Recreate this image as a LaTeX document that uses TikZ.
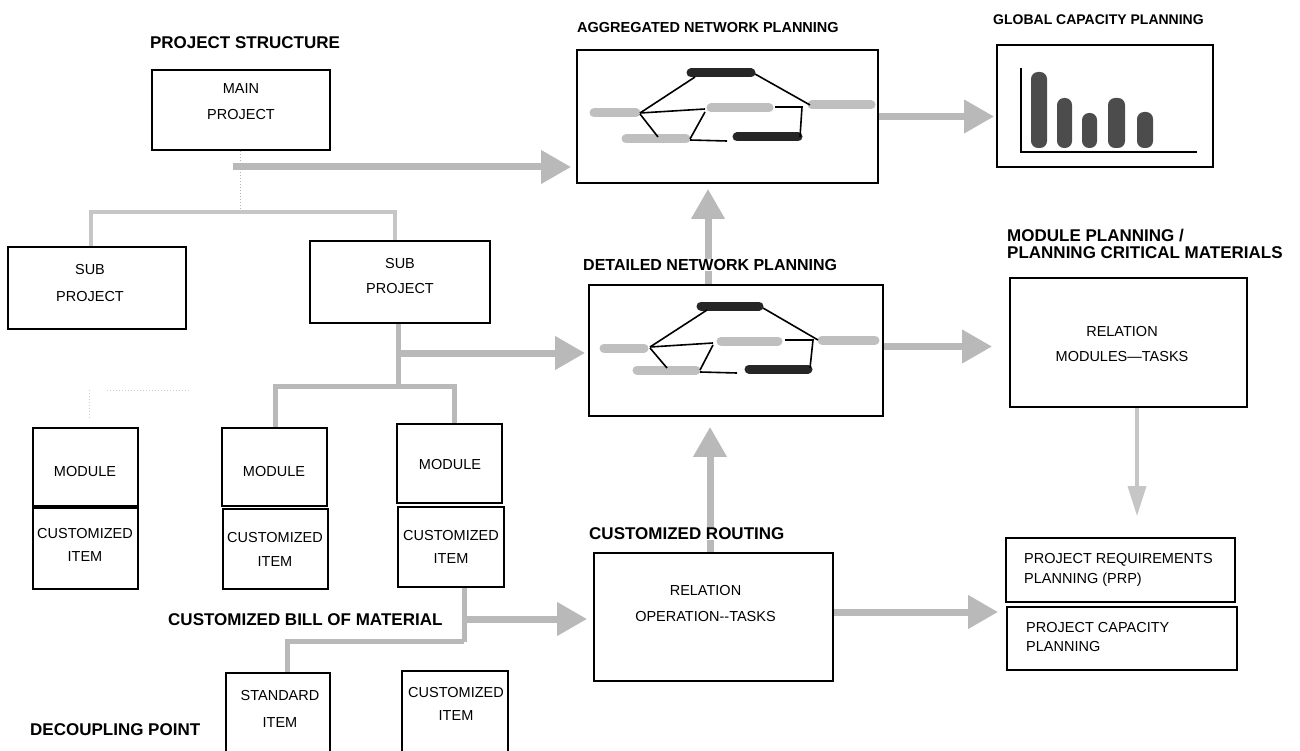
\documentclass[tikz,border=0pt]{standalone}
\usepackage{fontspec}
\setmainfont{Liberation Sans}
\usetikzlibrary{arrows.meta}
\begin{document}
\begin{tikzpicture}[x=1pt,y=-1pt,
  box/.style={draw=black, line width=1.8pt, inner sep=0pt},
  tx/.style={font=\fontsize{14.5}{#1}\selectfont, align=center, inner sep=0pt},
  txl/.style={font=\fontsize{14.5}{#1}\selectfont, align=left, anchor=west, inner sep=0pt},
  hd/.style={font=\bfseries\fontsize{#1}{17.5}\selectfont, inner sep=0pt, anchor=west, align=left},
  garrow/.style={draw=gray!55, line width=7pt, -{Triangle[length=30pt 0 1, width=32pt 0 1]}},
  larrow/.style={draw=gray!45, line width=3.5pt, -{Triangle[length=30pt 0 1, width=18pt 0 1]}},
  gline/.style={draw=gray!45, line width=4pt},
  gline2/.style={draw=gray!55, line width=5pt},
  dotline/.style={draw=gray!60, line width=1pt, dotted},
  faint/.style={draw=gray!40, line width=1pt, dotted},
  nline/.style={line width=1.6pt},
  gbar/.style={draw=gray!50, line width=9pt, line cap=round},
  kbar/.style={draw=black!85, line width=9pt, line cap=round}]
\useasboundingbox (0,0) rectangle (1300,751);

% ---------- headings ----------
\node[hd=17, anchor=center] (hPS) at (245,43) {PROJECT STRUCTURE};
\node[hd=14.5] (hAgg) at (577,28) {AGGREGATED NETWORK PLANNING};
\node[hd=14] (hGlob) at (993,20) {GLOBAL CAPACITY PLANNING};
\node[hd=17] (hMod) at (1007,244) {MODULE PLANNING /\\PLANNING CRITICAL MATERIALS};
\node[hd=17] (hBOM) at (168,620) {CUSTOMIZED BILL OF MATERIAL};
\node[hd=17] (hDec) at (30,730) {DECOUPLING POINT};

% ---------- boxes ----------
\node[box, minimum width=178pt, minimum height=80pt] (main) at (241,110) {};
\node[box, minimum width=178pt, minimum height=82pt] (sub1) at (97,288) {};
\node[box, minimum width=180pt, minimum height=82pt] (sub2) at (400,282) {};
\node[box, minimum width=105pt, minimum height=78pt] (m1) at (85.5,467) {};
\node[box, minimum width=105pt, minimum height=81pt] (ci1) at (85.5,548.5) {};
\node[box, minimum width=105pt, minimum height=78pt] (m2) at (274.5,467) {};
\node[box, minimum width=105pt, minimum height=80pt] (ci2) at (275.5,549) {};
\node[box, minimum width=105pt, minimum height=79pt] (m3) at (449.5,463.5) {};
\node[box, minimum width=106pt, minimum height=80pt] (ci3) at (451,547) {};
\node[box, minimum width=104pt, minimum height=87pt] (std) at (278,716.5) {};
\node[box, minimum width=106pt, minimum height=89pt] (ci4) at (455,715.5) {};
\node[box, minimum width=301pt, minimum height=133pt] (agg) at (727.5,116.5) {};
\node[box, minimum width=216pt, minimum height=122pt] (glob) at (1105,106) {};
\node[box, minimum width=294pt, minimum height=131pt] (det) at (736,350.5) {};
\node[box, minimum width=237pt, minimum height=129pt] (mod) at (1128.5,342.5) {};
\node[box, minimum width=239pt, minimum height=128pt] (rout) at (713.5,617) {};
\node[box, minimum width=229pt, minimum height=64pt] (prp) at (1120.5,570) {};
\node[box, minimum width=230pt, minimum height=63pt] (pcp) at (1122,638.5) {};

% ---------- box texts ----------
\node[tx=26] (tMain) at (241,102) {MAIN\\PROJECT};
\node[tx=27] (tSub1) at (90,283.5) {SUB\\PROJECT};
\node[tx=25] (tSub2) at (400,276.5) {SUB\\PROJECT};
\node[tx=20] (tM1) at (85,472) {MODULE};
\node[tx=23] (tCI1) at (85,544.5) {CUSTOMIZED\\ITEM};
\node[tx=20] (tM2) at (274,472) {MODULE};
\node[tx=24] (tCI2) at (275,549) {CUSTOMIZED\\ITEM};
\node[tx=20] (tM3) at (450,465) {MODULE};
\node[tx=23] (tCI3) at (451,546.5) {CUSTOMIZED\\ITEM};
\node[tx=27] (tStd) at (280,708.5) {STANDARD\\ITEM};
\node[tx=23] (tCI4) at (456,703.5) {CUSTOMIZED\\ITEM};
\node[tx=25] (tMod) at (1122,344.5) {RELATION\\MODULES---TASKS};
\node[tx=26] (tRout) at (705.5,604) {RELATION\\OPERATION-{}-TASKS};
\node[txl=20] (tPrp) at (1024,570) {PROJECT REQUIREMENTS\\PLANNING (PRP)};
\node[txl=19] (tPcp) at (1026,637.5) {PROJECT CAPACITY\\PLANNING};

% ---------- tree connectors ----------
\coordinate (jm) at (240,167);
\coordinate (js) at (233,167);
\coordinate (jt) at (240,212);
\coordinate (tl) at (91,212);
\coordinate (tr) at (395,212);
\draw[dotline] (jm |- main.south) -- (jt);
\draw[gline] (sub1.north -| tl) -- (tl) -- (tr) -- (tr |- sub2.north);
\draw[garrow, shorten >=5pt] (js) -- (js -| agg.west);

\coordinate (sb) at (398,353);
\coordinate (sj) at (398,386);
\coordinate (bl) at (275,386);
\coordinate (br) at (454,386);
\draw[gline2] (sub2.south -| sb) -- (sj);
\draw[gline2] (m2.north -| bl) -- (bl) -- (br) -- (br |- m3.north);
\draw[garrow, shorten >=3pt] (sb) -- (sb -| det.west);

\coordinate (fa) at (89,418);
\coordinate (fb) at (89,390);
\coordinate (fc) at (107,390);
\coordinate (fd) at (189,390);
\draw[faint] (fa) -- (fb);
\draw[faint] (fc) -- (fd);

\coordinate (cb) at (464,619);
\coordinate (cj) at (464,642);
\coordinate (sl) at (287,641);
\draw[gline2] (ci3.south -| cj) -- (cj);
\draw[gline2] (cj |- sl) -- (sl) -- (sl |- std.north);
\draw[garrow, shorten >=6pt] (cb) -- (cb -| rout.west);

% ---------- planning arrows ----------
\coordinate (va) at (708,250);
\draw[garrow, shorten >=5pt] (va |- det.north) -- (va |- agg.south);
\draw[garrow, shorten >=2pt] (agg.east) -- (agg.east -| glob.west);
\draw[garrow, shorten >=17pt] ([yshift=4pt]det.east) -- ([yshift=4pt]det.east -| mod.west);
\coordinate (vr) at (710,500);
\draw[garrow, shorten >=10pt] (vr |- rout.north) -- (vr |- det.south);
\draw[garrow, shorten >=7pt] ([yshift=5pt]rout.east) -- ([yshift=5pt]rout.east -| prp.west);
\coordinate (vm) at (1137,470);
\draw[larrow, shorten >=21pt] (vm |- mod.south) -- (vm |- prp.north);
\node[hd=17, fill=white] (hRout) at (589,534) {CUSTOMIZED ROUTING};
\node[hd=16, fill=white] (hDet) at (583,265) {DETAILED NETWORK PLANNING};

% ---------- aggregated network sketch ----------
\draw[gbar] (594,113) -- (636,113);
\draw[gbar] (711,108) -- (769,108);
\draw[gbar] (812,105) -- (871,105);
\draw[gbar] (626,139) -- (686,139);
\draw[kbar] (691,73) -- (751,73);
\draw[kbar] (737,137) -- (798,137);
\draw[nline] (695,77) -- (640,113);
\draw[nline] (755,74) -- (810,105);
\draw[nline] (640,113) -- (705,109);
\draw[nline] (640,114) -- (658,137);
\draw[nline] (690,139) -- (705,112);
\draw[nline] (690,140) -- (727,141);
\draw[nline] (775,107) -- (802,107) -- (800,137);

% ---------- detailed network sketch ----------
\draw[gbar] (604,348) -- (644,348);
\draw[gbar] (721,341) -- (778,341);
\draw[gbar] (822,340) -- (875,340);
\draw[gbar] (637,370) -- (696,370);
\draw[kbar] (701,306) -- (759,306);
\draw[kbar] (749,369) -- (808,369);
\draw[nline] (707,310) -- (650,347);
\draw[nline] (763,308) -- (818,340);
\draw[nline] (650,347) -- (713,343);
\draw[nline] (650,348) -- (667,368);
\draw[nline] (700,370) -- (713,345);
\draw[nline] (700,372) -- (737,373);
\draw[nline] (785,340) -- (813,340) -- (810,368);

% ---------- capacity chart ----------
\draw[line width=1.5pt] (1021,68) -- (1021,152) -- (1197,152);
\fill[black!70, rounded corners=7pt] (1031,72) rectangle (1047,148);
\fill[black!70, rounded corners=7pt] (1057,98) rectangle (1072,148);
\fill[black!70, rounded corners=7pt] (1082,113) rectangle (1097,148);
\fill[black!70, rounded corners=7pt] (1108,98) rectangle (1125,148);
\fill[black!70, rounded corners=7pt] (1137,112) rectangle (1153,148);
\end{tikzpicture}
\end{document}
